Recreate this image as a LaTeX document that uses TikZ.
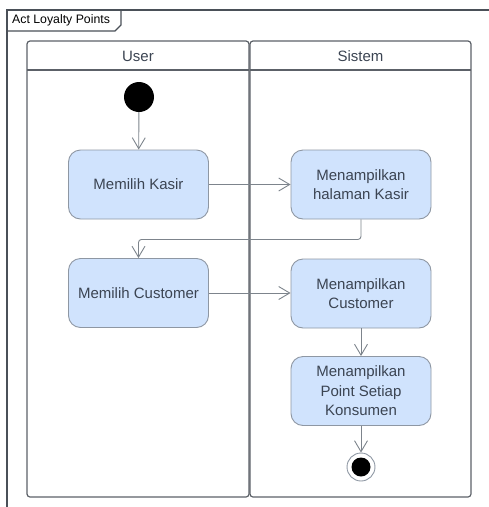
\documentclass[tikz,border=0pt]{standalone}
\usepackage{fontspec}
\setmainfont{Liberation Sans}
\usetikzlibrary{arrows.meta}
\definecolor{framecol}{HTML}{4A5058}
\definecolor{lanecol}{HTML}{5C6168}
\definecolor{actfill}{HTML}{D0E3FD}
\definecolor{actdraw}{HTML}{8E97A3}
\definecolor{txtcol}{HTML}{3B4452}
\definecolor{flowcol}{HTML}{7D848C}
\begin{document}
\begin{tikzpicture}[x=1pt,y=-1pt,
  framestyle/.style={draw=framecol,line width=1.8pt},
  lanestyle/.style={draw=lanecol,line width=1.2pt,rounded corners=3pt},
  action/.style={draw=actdraw,fill=actfill,line width=0.9pt,rounded corners=12pt,
    minimum width=140pt,minimum height=69pt,align=center,text=txtcol,
    font=\fontsize{15}{19.5}\selectfont},
  lanetitle/.style={text=txtcol,font=\fontsize{15}{18}\selectfont},
  flow/.style={draw=flowcol,line width=0.9pt,
    -{Straight Barb[length=11pt,width=13pt,line width=0.9pt]}}]
\useasboundingbox (0,0) rectangle (489,507);
% outer activity frame and its name tab
\draw[framestyle] (489,10) -- (7,10) -- (7,507);
\draw[framestyle,line width=1.3pt] (7,31) -- (115,31) -- (121,25) -- (121,10);
\node[anchor=west,inner sep=0pt,text=black,font=\fontsize{12.3}{14}\selectfont] (frametitle) at (12,20.5) {Act Loyalty Points};
% swimlanes
\draw[lanestyle] (27,41) rectangle (249,497);
\draw[lanecol,line width=1.2pt] (27,70) -- (249,70);
\draw[lanestyle] (250,41) rectangle (471,497);
\draw[lanecol,line width=1.2pt] (250,70) -- (471,70);
\node[lanetitle] (laneuser) at (138,56) {User};
\node[lanetitle] (lanesistem) at (360.5,56) {Sistem};
% start and end
\node[circle,fill=black,minimum size=30pt,inner sep=0pt] (start) at (139,97) {};
\node[circle,draw=actdraw,fill=white,line width=0.9pt,minimum size=28pt,inner sep=0pt] (finish) at (361,467) {};
\node[circle,fill=black,minimum size=19pt,inner sep=0pt] (finishdot) at (finish) {};
% actions
\node[action] (kasir) at (138.5,184.5) {Memilih Kasir};
\node[action] (halaman) at (361,184.5) {Menampilkan\\halaman Kasir};
\node[action] (customer) at (138.5,293) {Memilih Customer};
\node[action] (tampilcust) at (361,293.5) {Menampilkan\\Customer};
\node[action] (point) at (361,391) {Menampilkan\\Point Setiap\\Konsumen};
% control flow
\draw[flow] (start) -- (kasir);
\draw[flow] (kasir) -- (halaman);
\draw[flow,rounded corners=3pt] (halaman.south) -- ++(0,20) -| (customer.north);
\draw[flow] (customer.east) -- (customer.east -| tampilcust.west);
\draw[flow] (tampilcust) -- (point);
\draw[flow] (point) -- (finish);
\end{tikzpicture}
\end{document}
